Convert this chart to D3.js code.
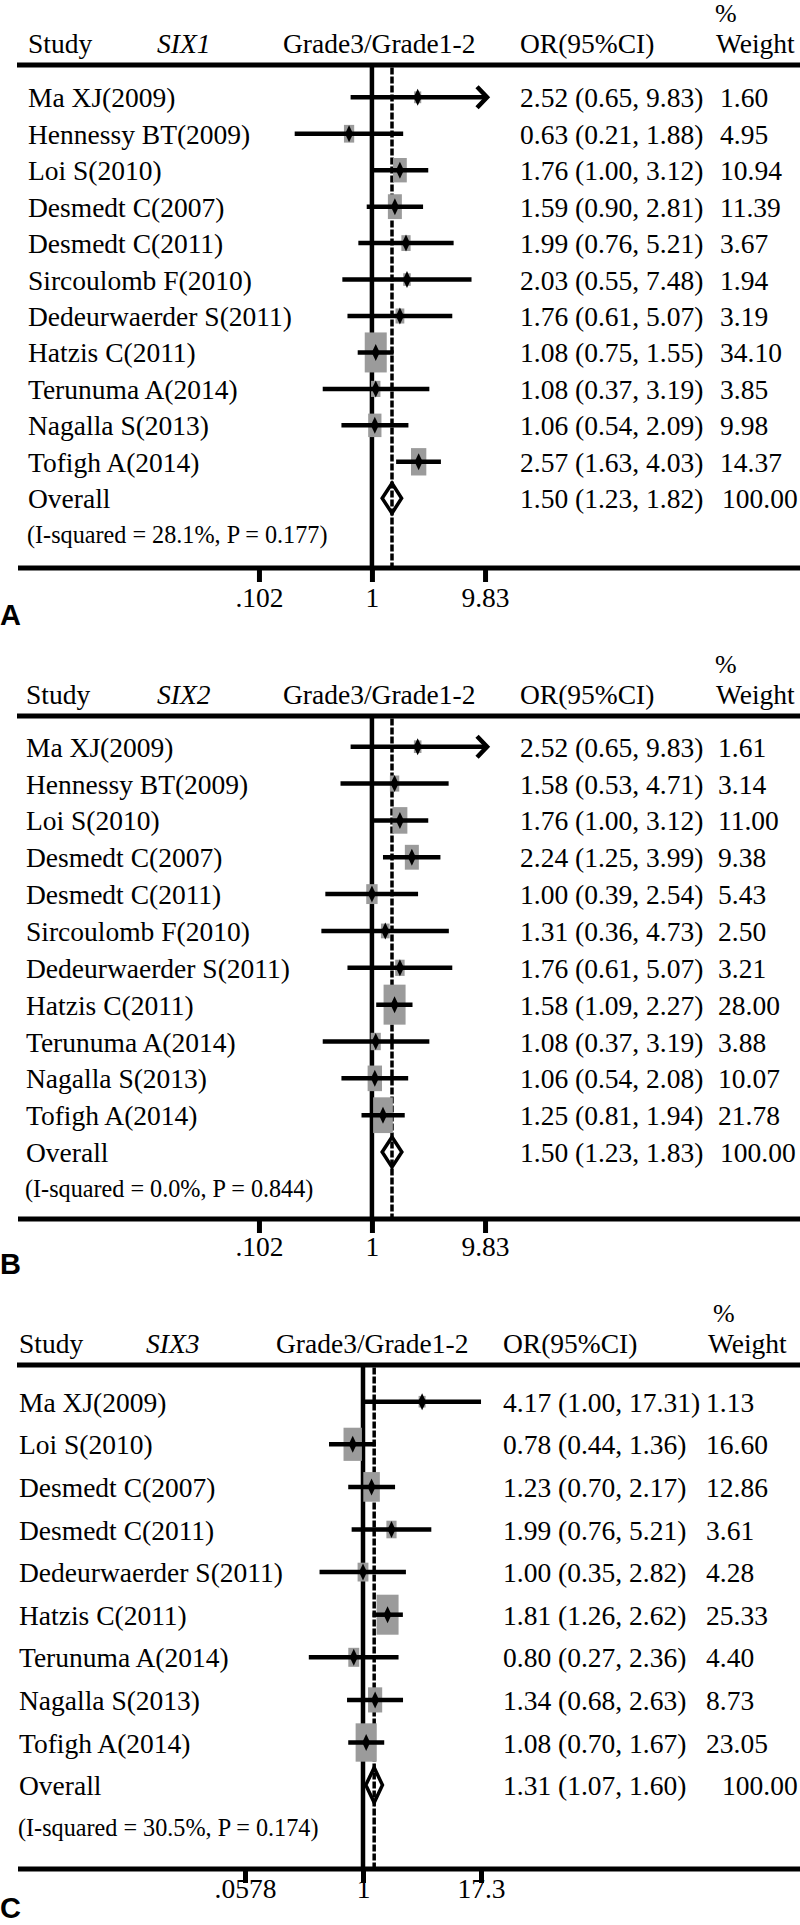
<!DOCTYPE html>
<html>
<head>
<meta charset="utf-8">
<script src="https://cdn.jsdelivr.net/npm/d3@7"></script>
<style>
  html, body { margin: 0; padding: 0; background: #fff; }
  svg { display: block; }
</style>
</head>
<body>
<svg id="chart" width="800" height="1925"></svg>
<script>
// ---------------- DATA ----------------
const studiesA = ["Ma XJ(2009)","Hennessy BT(2009)","Loi S(2010)","Desmedt C(2007)","Desmedt C(2011)","Sircoulomb F(2010)","Dedeurwaerder S(2011)","Hatzis C(2011)","Terunuma A(2014)","Nagalla S(2013)","Tofigh A(2014)"];
const orA     = [2.52, 0.63, 1.76, 1.59, 1.99, 2.03, 1.76, 1.08, 1.08, 1.06, 2.57];
const lowA    = [0.65, 0.21, 1.00, 0.90, 0.76, 0.55, 0.61, 0.75, 0.37, 0.54, 1.63];
const highA   = [9.83, 1.88, 3.12, 2.81, 5.21, 7.48, 5.07, 1.55, 3.19, 2.09, 4.03];
const weightA = [1.60, 4.95, 10.94, 11.39, 3.67, 1.94, 3.19, 34.10, 3.85, 9.98, 14.37];
const overallA = [1.50, 1.23, 1.82];
const hetA = "(I-squared = 28.1%, P = 0.177)";
const arrowA = ["Ma XJ(2009)"];
const ticksA = [0.102, 1, 9.83];
const tickLabelsA = [".102", "1", "9.83"];

const studiesB = ["Ma XJ(2009)","Hennessy BT(2009)","Loi S(2010)","Desmedt C(2007)","Desmedt C(2011)","Sircoulomb F(2010)","Dedeurwaerder S(2011)","Hatzis C(2011)","Terunuma A(2014)","Nagalla S(2013)","Tofigh A(2014)"];
const orB     = [2.52, 1.58, 1.76, 2.24, 1.00, 1.31, 1.76, 1.58, 1.08, 1.06, 1.25];
const lowB    = [0.65, 0.53, 1.00, 1.25, 0.39, 0.36, 0.61, 1.09, 0.37, 0.54, 0.81];
const highB   = [9.83, 4.71, 3.12, 3.99, 2.54, 4.73, 5.07, 2.27, 3.19, 2.08, 1.94];
const weightB = [1.61, 3.14, 11.00, 9.38, 5.43, 2.50, 3.21, 28.00, 3.88, 10.07, 21.78];
const overallB = [1.50, 1.23, 1.83];
const hetB = "(I-squared = 0.0%, P = 0.844)";
const arrowB = ["Ma XJ(2009)"];
const ticksB = [0.102, 1, 9.83];
const tickLabelsB = [".102", "1", "9.83"];

const studiesC = ["Ma XJ(2009)","Loi S(2010)","Desmedt C(2007)","Desmedt C(2011)","Dedeurwaerder S(2011)","Hatzis C(2011)","Terunuma A(2014)","Nagalla S(2013)","Tofigh A(2014)"];
const orC     = [4.17, 0.78, 1.23, 1.99, 1.00, 1.81, 0.80, 1.34, 1.08];
const lowC    = [1.00, 0.44, 0.70, 0.76, 0.35, 1.26, 0.27, 0.68, 0.70];
const highC   = [17.31, 1.36, 2.17, 5.21, 2.82, 2.62, 2.36, 2.63, 1.67];
const weightC = [1.13, 16.60, 12.86, 3.61, 4.28, 25.33, 4.40, 8.73, 23.05];
const overallC = [1.31, 1.07, 1.60];
const hetC = "(I-squared = 30.5%, P = 0.174)";
const arrowC = [];
const ticksC = [0.0578, 1, 17.3];
const tickLabelsC = [".0578", "1", "17.3"];

const headerLabels = ["Study", "Grade3/Grade1-2", "OR(95%CI)", "%", "Weight"];
const geneNames = ["SIX1", "SIX2", "SIX3"];
const panelLetters = ["A", "B", "C"];

// ---------------- LAYOUT ----------------
const SERIF = "'Liberation Serif', 'Times New Roman', serif";
const SANS = "'Liberation Sans', Arial, sans-serif";
const FS = 27.5;

const panels = [
  { studies: studiesA, or: orA, low: lowA, high: highA, weight: weightA, overall: overallA, het: hetA, arrows: arrowA, ticks: ticksA, tickLabels: tickLabelsA, gene: geneNames[0], letter: panelLetters[0],
    headerY: 65, firstRow: 97.3, step: 36.45, axisY: 568, x1: 372, half: 113.05,
    labelX: 28, geneX: 157, gradeX: 283, orX: 520, wX: 720, owX: 722, pctX: 715, weightX: 716, tickDy: 39, letterY: 625 },
  { studies: studiesB, or: orB, low: lowB, high: highB, weight: weightB, overall: overallB, het: hetB, arrows: arrowB, ticks: ticksB, tickLabels: tickLabelsB, gene: geneNames[1], letter: panelLetters[1],
    headerY: 716, firstRow: 746.7, step: 36.85, axisY: 1219, x1: 372, half: 113.05,
    labelX: 26, geneX: 157, gradeX: 283, orX: 520, wX: 718, owX: 720, pctX: 715, weightX: 716, tickDy: 37, letterY: 1274 },
  { studies: studiesC, or: orC, low: lowC, high: highC, weight: weightC, overall: overallC, het: hetC, arrows: arrowC, ticks: ticksC, tickLabels: tickLabelsC, gene: geneNames[2], letter: panelLetters[2],
    headerY: 1365, firstRow: 1401.7, step: 42.6, axisY: 1869, x1: 363, half: 118,
    labelX: 19, geneX: 146, gradeX: 276, orX: 503, wX: 706, owX: 722, pctX: 713, weightX: 708, tickDy: 29, letterY: 1918 }
];

const svg = d3.select("#chart");
svg.append("rect").attr("width", 800).attr("height", 1925).attr("fill", "#fff");

const fmt = d3.format(".2f");

panels.forEach(p => {
  const g = svg.append("g");
  const x = d3.scaleLog()
    .domain([p.ticks[0], p.ticks[p.ticks.length - 1]])
    .range([p.x1 - p.half, p.x1 + p.half]);
  const n = p.studies.length;
  const y = d3.scaleLinear().domain([0, 1]).range([p.firstRow, p.firstRow + p.step]);
  const maxW = d3.max(p.weight);
  const boxW = d3.scaleLinear().domain([0, 1]).range([3, 22]);
  const boxH = d3.scaleLinear().domain([0, 1]).range([4, 40]);

  const hy = p.headerY - 12;
  const txt = (tx, ty, s, opts = {}) => g.append("text")
      .attr("x", tx).attr("y", ty)
      .attr("font-family", opts.family || SERIF)
      .attr("font-size", opts.size || FS)
      .attr("font-style", opts.italic ? "italic" : null)
      .attr("font-weight", opts.bold ? "bold" : null)
      .attr("text-anchor", opts.anchor || "start")
      .attr("fill", "#000")
      .text(s);
  txt(p.labelX, hy, headerLabels[0]);
  txt(p.geneX, hy, p.gene, { italic: true });
  txt(p.gradeX, hy, headerLabels[1]);
  txt(p.orX, hy, headerLabels[2]);
  txt(p.pctX, p.headerY - 43, headerLabels[3], { size: 26 });
  txt(p.weightX, hy, headerLabels[4]);

  // header line
  g.append("line").attr("x1", 17).attr("x2", 800).attr("y1", p.headerY).attr("y2", p.headerY)
    .attr("stroke", "#000").attr("stroke-width", 5);

  // null line (OR = 1)
  g.append("line").attr("x1", x(1)).attr("x2", x(1)).attr("y1", p.headerY).attr("y2", p.axisY)
    .attr("stroke", "#000").attr("stroke-width", 4.5);
  // overall dashed line
  g.append("line").attr("x1", x(p.overall[0])).attr("x2", x(p.overall[0]))
    .attr("y1", p.headerY + 2.5).attr("y2", p.axisY)
    .attr("stroke", "#000").attr("stroke-width", 3.5).attr("stroke-dasharray", "7,2");

  const idx = d3.range(n);
  // boxes
  g.selectAll("rect.box").data(idx).join("rect").attr("class", "box")
    .attr("x", i => x(p.or[i]) - boxW(Math.sqrt(p.weight[i] / maxW)) / 2)
    .attr("y", i => y(i) - boxH(Math.sqrt(p.weight[i] / maxW)) / 2)
    .attr("width", i => boxW(Math.sqrt(p.weight[i] / maxW)))
    .attr("height", i => boxH(Math.sqrt(p.weight[i] / maxW)))
    .attr("fill", "#9b9b9b");
  // CI lines
  g.selectAll("line.ci").data(idx).join("line").attr("class", "ci")
    .attr("x1", i => x(p.low[i]))
    .attr("x2", i => x(p.high[i]) + (p.arrows.includes(p.studies[i]) ? 2 : 0))
    .attr("y1", i => y(i)).attr("y2", i => y(i))
    .attr("stroke", "#000").attr("stroke-width", 4.5);
  // arrows
  idx.filter(i => p.arrows.includes(p.studies[i])).forEach(i => {
    const ax = x(p.high[i]) + 2, ay = y(i);
    g.append("path").attr("d", `M${ax - 10},${ay - 10.5}L${ax},${ay}L${ax - 10},${ay + 10.5}`)
      .attr("fill", "none").attr("stroke", "#000").attr("stroke-width", 4.5);
  });
  // point diamonds
  g.selectAll("path.pt").data(idx).join("path").attr("class", "pt")
    .attr("d", i => {
      const cx = x(p.or[i]), cy = y(i);
      return `M${cx},${cy - 8.5}L${cx + 4},${cy}L${cx},${cy + 8.5}L${cx - 4},${cy}Z`;
    })
    .attr("fill", "#000");

  // overall diamond
  const oy = y(n);
  const dh = p.step * 0.41;
  g.append("path")
    .attr("d", `M${x(p.overall[1])},${oy}L${x(p.overall[0])},${oy - dh}L${x(p.overall[2])},${oy}L${x(p.overall[0])},${oy + dh}Z`)
    .attr("fill", "none").attr("stroke", "#000").attr("stroke-width", 3.5).attr("stroke-linejoin", "miter");

  // study labels / OR / weight
  idx.forEach(i => {
    txt(p.labelX, y(i) + 10, p.studies[i]);
    txt(p.orX, y(i) + 10, `${fmt(p.or[i])} (${fmt(p.low[i])}, ${fmt(p.high[i])})`);
    txt(p.wX, y(i) + 10, fmt(p.weight[i]));
  });
  txt(p.labelX, oy + 10, "Overall");
  txt(p.orX, oy + 10, `${fmt(p.overall[0])} (${fmt(p.overall[1])}, ${fmt(p.overall[2])})`);
  txt(p.owX, oy + 10, fmt(100));
  txt(p.labelX - 1, y(n + 1) + 8, p.het, { size: 24.2 });

  // axis
  g.append("line").attr("x1", 18).attr("x2", 800).attr("y1", p.axisY).attr("y2", p.axisY)
    .attr("stroke", "#000").attr("stroke-width", 5);
  const axis = d3.axisBottom(x).tickValues(p.ticks)
    .tickFormat((d, i) => p.tickLabels[i]).tickSize(14).tickSizeOuter(0);
  const ag = g.append("g").attr("transform", `translate(0,${p.axisY})`).call(axis);
  ag.select(".domain").remove();
  ag.selectAll(".tick line").attr("stroke", "#000").attr("stroke-width", 5);
  ag.selectAll(".tick text").attr("y", p.tickDy).attr("dy", null)
    .attr("font-family", SERIF).attr("font-size", FS).attr("fill", "#000");

  // panel letter
  txt(0, p.letterY, p.letter, { family: SANS, size: 29, bold: true });
});
</script>
</body>
</html>
